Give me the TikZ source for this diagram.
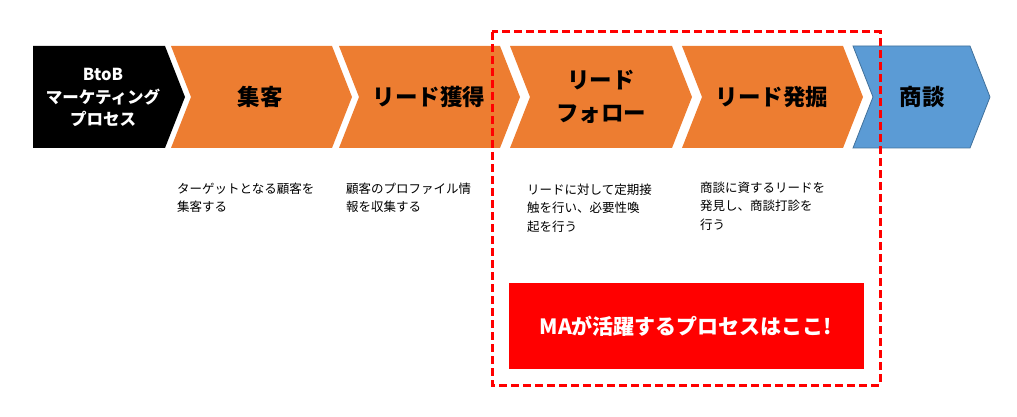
\documentclass[tikz,border=0pt]{standalone}
\usepackage{fontspec}
\newfontfamily\jp{Noto Sans CJK JP}
\definecolor{orng}{HTML}{ED7D31}
\definecolor{blu}{HTML}{5B9BD5}
\definecolor{bluedge}{HTML}{41719C}
\definecolor{redc}{HTML}{FF0000}
\begin{document}
\begin{tikzpicture}[x=1pt,y=-1pt,
  head/.style={font=\jp\bfseries\fontsize{22.5}{33}\selectfont, align=center, text=black, inner sep=0pt},
  whitehead/.style={font=\jp\bfseries\fontsize{16.5}{22.5}\selectfont, align=center, text=white, inner sep=0pt},
  desc/.style={font=\jp\fontsize{12.5}{18.5}\selectfont, align=left, anchor=north west, inner sep=0pt, text=black},
  chevfill/.style={fill=orng, draw=none},
  dashbox/.style={draw=redc, line width=3pt, dash pattern=on 8pt off 4pt},
  redbox/.style={fill=redc, draw=none},
  mahead/.style={font=\jp\bfseries\fontsize{21}{25}\selectfont, text=white, inner sep=0pt}]
\useasboundingbox (0,0) rectangle (1017,417);
% black pentagon
\fill[black] (33,46) -- (165,46) -- (185,97) -- (165,148) -- (33,148) -- cycle;
% orange chevrons
\fill[chevfill] (171,46) -- (332,46) -- (352,97) -- (332,148) -- (171,148) -- (191,97) -- cycle;
\fill[chevfill] (339,46) -- (500,46) -- (520,97) -- (500,148) -- (339,148) -- (359,97) -- cycle;
\fill[chevfill] (510,46) -- (672,46) -- (692,97) -- (672,148) -- (510,148) -- (530,97) -- cycle;
\fill[chevfill] (682,46) -- (843,46) -- (863,97) -- (843,148) -- (682,148) -- (702,97) -- cycle;
% blue chevron
\filldraw[fill=blu, draw=bluedge, line width=0.8pt] (853,46) -- (970,46) -- (990,97) -- (970,148) -- (853,148) -- (873,97) -- cycle;
% headings
\node[whitehead] (btob) at (103,97.5) {BtoB\\マーケティング\\プロセス};
\node[head] (shukyaku) at (260,97) {集客};
\node[head] (kakutoku) at (429,97) {リード獲得};
\node[head] (follow) at (601,96.5) {リード\\フォロー};
\node[head] (hakkutsu) at (772,97) {リード発掘};
\node[head] (shodan) at (922,97) {商談};
% descriptions
\node[desc] (d1) at (177,182.5) {ターゲットとなる顧客を\\集客する};
\node[desc] (d2) at (346,182.5) {顧客のプロファイル情\\報を収集する};
\node[desc] (d3) at (527,183.5) {リードに対して定期接\\触を行い、必要性喚\\起を行う};
\node[desc] (d4) at (700,181.5) {商談に資するリードを\\発見し、商談打診を\\行う};
% MA box
\fill[redbox] (509,283) rectangle (864,369);
\node[mahead] (ma) at (686,326) {MAが活躍するプロセスはここ!};
% dashed frame
\draw[dashbox] (492,32) rectangle (880,385);
\end{tikzpicture}
\end{document}
